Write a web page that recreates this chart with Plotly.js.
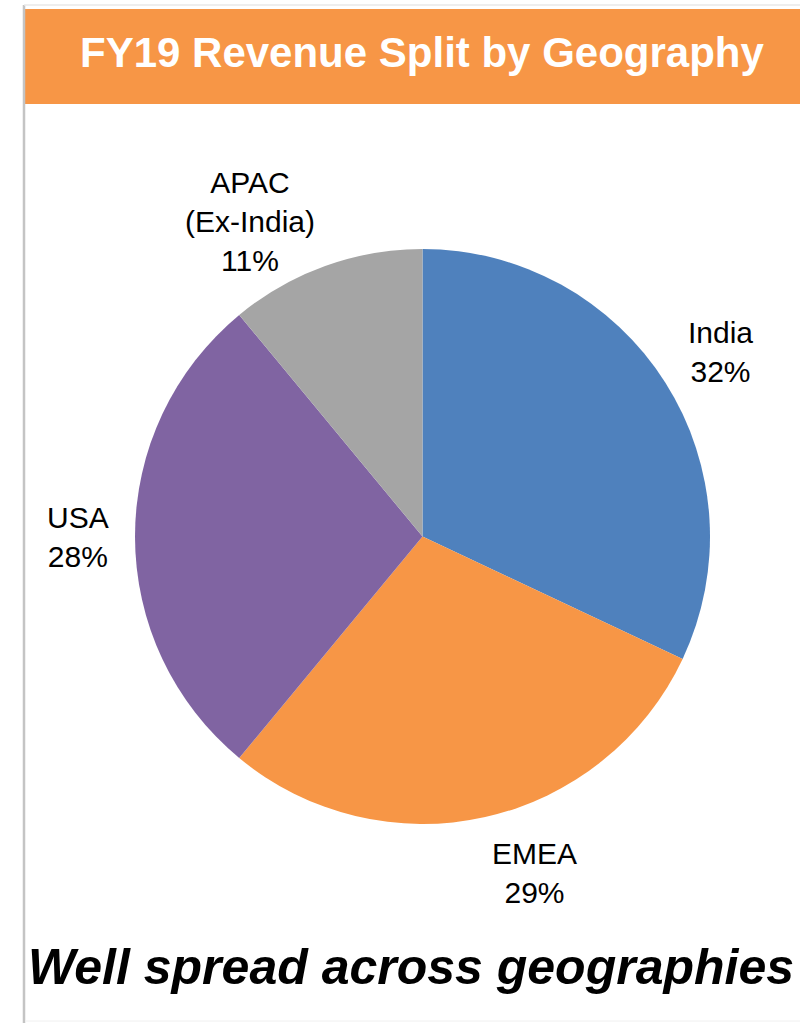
<!DOCTYPE html>
<html>
<head>
<meta charset="utf-8">
<script src="https://cdn.plot.ly/plotly-3.0.1.min.js"></script>
<style>
  html, body { margin: 0; padding: 0; background: #ffffff; }
  #chart { width: 800px; height: 1023px; }
</style>
</head>
<body>
<div id="chart"></div>
<script>
// ---- Data ----
const chartTitle = 'FY19 Revenue Split by Geography';
const footnote = 'Well spread across geographies';
const regions = ['India', 'EMEA', 'USA', 'APAC (Ex-India)'];
const regionLabels = ['India', 'EMEA', 'USA', 'APAC<br>(Ex-India)'];
const shares = [32, 29, 28, 11];
const sliceColors = ['#4F81BD', '#F79646', '#8064A2', '#A5A5A5'];

// ---- Layout geometry (pixels) ----
const W = 800, H = 1023;
const cx = 422.5, cy = 536.5, R = 287.5;
const gapX = 24, gapYBottom = -14, gapYTop = 18, gapYMid = 0;
const px2x = p => p / W;
const px2y = p => 1 - p / H;

const trace = {
  type: 'pie',
  labels: regions,
  values: shares,
  sort: false,
  direction: 'clockwise',
  rotation: 0,
  marker: { colors: sliceColors, line: { width: 0 } },
  textinfo: 'none',
  hoverinfo: 'label+percent',
  showlegend: false,
  domain: { x: [px2x(cx - R), px2x(cx + R)], y: [px2y(cy + R), px2y(cy - R)] }
};

// data labels positioned from the slice mid-angles
const total = shares.reduce((a, b) => a + b, 0);
let cum = 0;
const labelAnns = shares.map((v, i) => {
  const mid = (cum + v / 2) / total * 2 * Math.PI;
  cum += v;
  const s = Math.sin(mid), c = Math.cos(mid);
  const xa = s > 0.2 ? 'left' : (s < -0.2 ? 'right' : 'center');
  const ya = c > 0.3 ? 'bottom' : (c < -0.3 ? 'top' : 'middle');
  const gy = ya === 'bottom' ? gapYBottom : (ya === 'top' ? gapYTop : gapYMid);
  const x = cx + (R + gapX) * s, y = cy - (R + gy) * c;
  return {
    xref: 'paper', yref: 'paper',
    x: px2x(x), y: px2y(y),
    xanchor: xa, yanchor: ya,
    text: regionLabels[i] + '<br>' + shares[i] + '%',
    showarrow: false,
    align: 'center',
    font: { family: 'Liberation Sans, Arial, sans-serif', size: 30, color: '#000000' }
  };
});

const layout = {
  width: W, height: H,
  margin: { l: 0, r: 0, t: 0, b: 0 },
  paper_bgcolor: '#ffffff',
  plot_bgcolor: '#ffffff',
  showlegend: false,
  shapes: [
    // title banner
    { type: 'rect', xref: 'paper', yref: 'paper', x0: px2x(23), x1: px2x(800), y0: px2y(104), y1: px2y(9),
      fillcolor: '#F79646', line: { width: 0 }, layer: 'below' },
    // slide edge shadow lines
    { type: 'line', xref: 'paper', yref: 'paper', x0: px2x(24), x1: px2x(24), y0: px2y(5), y1: 0,
      line: { color: '#c4c4c4', width: 2.5 } },
    { type: 'line', xref: 'paper', yref: 'paper', x0: px2x(24), x1: 1, y0: px2y(5), y1: px2y(5),
      line: { color: '#e8e8e8', width: 1.5 } },
    { type: 'line', xref: 'paper', yref: 'paper', x0: px2x(26), x1: 1, y0: px2y(1021), y1: px2y(1021),
      line: { color: '#f0f0f0', width: 1 } }
  ],
  annotations: [
    { xref: 'paper', yref: 'paper', x: px2x(422.5), y: px2y(53), xanchor: 'center', yanchor: 'middle',
      text: '<b>' + chartTitle + '</b>', showarrow: false,
      font: { family: 'Liberation Sans, Arial, sans-serif', size: 42, color: '#ffffff' } },
    { xref: 'paper', yref: 'paper', x: px2x(411), y: px2y(967), xanchor: 'center', yanchor: 'middle',
      text: '<b><i>' + footnote + '</i></b>', showarrow: false,
      font: { family: 'Liberation Sans, Arial, sans-serif', size: 50, color: '#000000' } }
  ].concat(labelAnns)
};

Plotly.newPlot('chart', [trace], layout, { displayModeBar: false, staticPlot: true });
</script>
</body>
</html>
